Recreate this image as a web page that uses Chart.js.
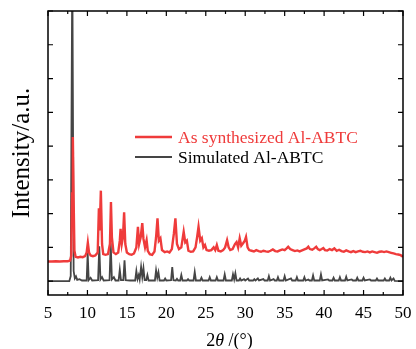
<!DOCTYPE html>
<html>
<head>
<meta charset="utf-8">
<script src="https://cdn.jsdelivr.net/npm/chart.js@4"></script>
<style>
  html, body { margin: 0; padding: 0; background: #fff; }
</style>
</head>
<body>
<canvas id="myChart" width="416" height="349"></canvas>
<script>
// Datos del difractograma (2θ en grados, intensidad en unidades arbitrarias)
var expLabel = 'As synthesized Al-ABTC';
var simLabel = 'Simulated Al-ABTC';

var expTheta = [5.0, 5.5, 6.0, 6.5, 7.0, 7.5, 7.8, 7.95, 8.05, 8.15, 8.25, 8.35, 8.5, 8.8, 9.1, 9.4, 9.7, 9.9, 10.05, 10.2,
  10.4, 10.7, 11.0, 11.3, 11.45, 11.55, 11.7, 11.85, 12.0, 12.3, 12.6, 12.85, 12.98, 13.1, 13.3, 13.6, 13.9, 14.1, 14.2, 14.35,
  14.5, 14.65, 14.8, 15.0, 15.3, 15.6, 15.9, 16.2, 16.4, 16.55, 16.75, 16.95, 17.1, 17.3, 17.5, 17.65, 17.9, 18.2, 18.5, 18.7,
  18.88, 19.05, 19.25, 19.45, 19.8, 20.1, 20.4, 20.7, 20.95, 21.15, 21.35, 21.6, 21.9, 22.2, 22.4, 22.6, 22.8, 23.1, 23.4, 23.7,
  23.9, 24.08, 24.3, 24.5, 24.7, 24.9, 25.1, 25.4, 25.7, 26.0, 26.2, 26.4, 26.6, 26.9, 27.2, 27.45, 27.7, 27.9, 28.1, 28.4,
  28.7, 28.9, 29.1, 29.3, 29.5, 29.75, 29.95, 30.1, 30.3, 30.5, 30.8, 31.1, 31.4, 31.7, 32.0, 32.3, 32.6, 32.9, 33.2, 33.5,
  33.8, 34.1, 34.4, 34.7, 35.0, 35.25, 35.45, 35.7, 36.0, 36.3, 36.6, 36.9, 37.2, 37.5, 37.8, 38.0, 38.2, 38.5, 38.75, 39.0,
  39.2, 39.45, 39.7, 39.9, 40.1, 40.4, 40.7, 41.0, 41.3, 41.6, 41.9, 42.2, 42.5, 42.8, 43.1, 43.4, 43.7, 44.0, 44.3, 44.6,
  44.9, 45.2, 45.5, 45.8, 46.1, 46.4, 46.7, 47.0, 47.3, 47.6, 47.9, 48.2, 48.5, 48.8, 49.1, 49.4, 49.7, 50.0];
var expIntensity = [0.58, 0.58, 0.59, 0.58, 0.59, 0.59, 0.61, 0.75, 2.6, 4.27, 2.4, 0.9, 0.72, 0.70, 0.72, 0.71, 0.74, 0.85, 1.14, 0.85,
  0.76, 0.74, 0.76, 0.85, 2.16, 1.5, 2.68, 1.1, 0.80, 0.78, 0.80, 1.1, 2.34, 1.3, 0.85, 0.80, 0.85, 1.2, 1.55, 1.1,
  1.3, 2.04, 1.1, 0.85, 0.80, 0.78, 0.82, 1.0, 1.61, 1.1, 1.3, 1.72, 1.25, 1.0, 1.21, 0.9, 0.80, 0.78, 0.88, 1.3,
  1.86, 1.2, 1.27, 0.92, 0.86, 0.88, 0.85, 0.95, 1.4, 1.86, 1.1, 0.95, 1.0, 1.46, 1.15, 1.2, 0.9, 0.87, 0.88, 1.0,
  1.3, 1.61, 1.2, 1.27, 1.0, 1.07, 0.92, 0.90, 0.92, 1.0, 0.92, 1.07, 0.90, 0.88, 0.92, 1.0, 1.21, 1.0, 0.92, 0.95,
  1.1, 1.16, 1.0, 1.27, 1.05, 1.13, 1.2, 1.31, 1.0, 0.92, 0.90, 0.88, 0.92, 0.89, 0.87, 0.90, 0.88, 0.87, 0.90, 0.94,
  0.89, 0.88, 0.91, 0.94, 0.92, 0.97, 1.02, 0.95, 0.92, 0.89, 0.91, 0.88, 0.91, 0.94, 0.97, 1.02, 0.95, 0.93, 0.97, 1.02,
  0.95, 0.92, 0.95, 0.98, 0.92, 0.91, 0.95, 0.92, 0.97, 0.90, 0.93, 0.89, 0.87, 0.91, 0.88, 0.86, 0.89, 0.86, 0.88, 0.90,
  0.87, 0.86, 0.88, 0.85, 0.88, 0.86, 0.84, 0.87, 0.88, 0.86, 0.88, 0.86, 0.84, 0.82, 0.80, 0.79, 0.77, 0.72];

var simTheta = [5.0, 7.7, 7.88, 8.08, 8.25, 8.4, 8.55, 8.7, 9.0, 9.3, 9.9, 10.03, 10.16, 10.4, 10.6, 11.35, 11.5, 11.65, 11.85, 12.05,
  12.8, 12.95, 13.1, 13.35, 13.55, 13.95, 14.1, 14.25, 14.55, 14.7, 14.85, 15.4, 16.05, 16.2, 16.35, 16.5, 16.62, 16.8, 16.95, 17.1,
  17.25, 17.45, 17.6, 17.75, 18.55, 18.7, 18.85, 19.0, 19.15, 19.7, 19.85, 20.0, 20.6, 20.75, 20.9, 21.2, 21.35, 21.5, 21.75, 21.9,
  22.05, 22.6, 22.75, 22.9, 23.45, 23.6, 23.75, 24.3, 24.45, 24.6, 25.35, 25.5, 25.65, 26.25, 26.4, 26.55, 27.25, 27.4, 27.55, 28.3,
  28.45, 28.6, 28.75, 28.9, 29.2, 29.35, 29.5, 29.85, 30.0, 30.35, 30.5, 31.0, 31.15, 31.3, 31.6, 31.75, 32.3, 32.45, 32.85, 33.0,
  33.15, 33.6, 33.75, 34.0, 34.15, 34.3, 34.85, 35.0, 35.15, 35.8, 35.95, 36.4, 36.55, 36.7, 37.35, 37.5, 37.65, 38.0, 38.15, 38.45,
  38.6, 38.75, 39.45, 39.6, 39.75, 40.5, 40.65, 41.05, 41.2, 41.35, 41.85, 42.0, 42.15, 42.65, 42.8, 42.95, 43.5, 43.65, 44.05, 44.2,
  44.35, 44.85, 45.0, 45.15, 45.8, 45.95, 46.55, 46.7, 46.85, 47.55, 47.7, 47.85, 48.25, 48.4, 48.55, 48.8, 48.95, 50.0];
var simIntensity = [0.0, 0.0, 0.15, 9.5, 0.3, 0.08, 0.14, 0.04, 0.06, 0.02, 0.02, 0.83, 0.03, 0.1, 0.02, 0.03, 1.03, 0.05, 0.12, 0.02,
  0.03, 1.12, 0.05, 0.12, 0.02, 0.02, 0.34, 0.03, 0.03, 0.62, 0.03, 0.02, 0.02, 0.3, 0.06, 0.18, 0.05, 0.42, 0.12, 0.38,
  0.03, 0.03, 0.18, 0.02, 0.02, 0.32, 0.1, 0.26, 0.02, 0.02, 0.08, 0.02, 0.03, 0.42, 0.03, 0.02, 0.07, 0.02, 0.02, 0.18,
  0.02, 0.02, 0.06, 0.02, 0.02, 0.27, 0.02, 0.02, 0.1, 0.02, 0.02, 0.12, 0.02, 0.02, 0.12, 0.02, 0.02, 0.2, 0.02, 0.02,
  0.2, 0.05, 0.23, 0.02, 0.02, 0.08, 0.02, 0.06, 0.02, 0.08, 0.02, 0.02, 0.06, 0.02, 0.08, 0.02, 0.06, 0.02, 0.02, 0.15,
  0.02, 0.06, 0.02, 0.02, 0.12, 0.02, 0.02, 0.15, 0.02, 0.08, 0.02, 0.02, 0.12, 0.02, 0.02, 0.12, 0.02, 0.05, 0.02, 0.02,
  0.17, 0.02, 0.02, 0.2, 0.02, 0.05, 0.02, 0.02, 0.1, 0.02, 0.02, 0.12, 0.02, 0.02, 0.13, 0.02, 0.05, 0.02, 0.02, 0.1,
  0.02, 0.02, 0.1, 0.02, 0.05, 0.02, 0.02, 0.08, 0.02, 0.02, 0.08, 0.02, 0.02, 0.1, 0.02, 0.08, 0.01, 0.0];

// Marcas de los ejes
var xTickLabels = [5, 10, 15, 20, 25, 30, 35, 40, 45, 50];
var yTickValues = [0, 1, 2, 3, 4, 5, 6, 7, 8];

var redColor = '#ef3b3b';
var greyColor = '#454545';

function toPoints(xs, ys) {
    return xs.map(function (x, i) { return { x: x, y: ys[i] }; });
}

// Marco, marcas hacia dentro, leyenda y título del eje x
var framePlugin = {
    id: 'frame',
    afterDraw: function (chart) {
        var ctx = chart.ctx;
        var a = chart.chartArea;
        var xs = chart.scales.x, ys = chart.scales.y;
        ctx.save();
        ctx.strokeStyle = '#000';
        ctx.lineWidth = 1.5;
        ctx.strokeRect(a.left, a.top, a.right - a.left, a.bottom - a.top);

        ctx.lineWidth = 1.2;
        ctx.beginPath();
        xTickLabels.forEach(function (v, i) {
            var px = xs.getPixelForValue(v);
            ctx.moveTo(px, a.bottom); ctx.lineTo(px, a.bottom - 5);
            ctx.moveTo(px, a.top); ctx.lineTo(px, a.top + 5);
            if (i < xTickLabels.length - 1) {
                var m = xs.getPixelForValue((v + xTickLabels[i + 1]) / 2);
                ctx.moveTo(m, a.bottom); ctx.lineTo(m, a.bottom - 3);
                ctx.moveTo(m, a.top); ctx.lineTo(m, a.top + 3);
            }
        });
        yTickValues.forEach(function (v) {
            var py = ys.getPixelForValue(v);
            ctx.moveTo(a.left, py); ctx.lineTo(a.left + 5, py);
            ctx.moveTo(a.right, py); ctx.lineTo(a.right - 5, py);
        });
        ctx.stroke();

        // leyenda
        ctx.font = "17.5px 'Liberation Serif', serif";
        ctx.textBaseline = 'middle';
        ctx.textAlign = 'left';
        chart.data.datasets.forEach(function (ds, i) {
            var y = 137 + i * 20;
            ctx.strokeStyle = ds.borderColor;
            ctx.lineWidth = ds.borderWidth;
            ctx.beginPath();
            ctx.moveTo(135, y); ctx.lineTo(172, y);
            ctx.stroke();
            ctx.fillStyle = i === 0 ? redColor : '#000';
            ctx.fillText(ds.label, 178, y + 1);
        });

        // título del eje x: 2θ /(°)
        var parts = [
            { t: '2', f: "18px 'Liberation Serif', serif" },
            { t: 'θ', f: "italic 18px 'Liberation Serif', serif" },
            { t: ' /(°)', f: "18px 'Liberation Serif', serif" }
        ];
        var total = 0;
        parts.forEach(function (p) { ctx.font = p.f; p.w = ctx.measureText(p.t).width; total += p.w; });
        var x0 = (a.left + a.right) / 2 + 4 - total / 2;
        ctx.fillStyle = '#000';
        ctx.textBaseline = 'alphabetic';
        parts.forEach(function (p) { ctx.font = p.f; ctx.fillText(p.t, x0, 346); x0 += p.w; });
        ctx.restore();
    }
};

var chart = document.getElementById('myChart').getContext('2d');
var myChart = new Chart(chart, {
    type: 'line',
    data: {
        datasets: [
            {
                label: expLabel,
                data: toPoints(expTheta, expIntensity),
                borderColor: redColor,
                borderWidth: 2.4,
                pointRadius: 0,
                tension: 0,
                fill: false
            },
            {
                label: simLabel,
                data: toPoints(simTheta, simIntensity),
                borderColor: greyColor,
                borderWidth: 1.8,
                pointRadius: 0,
                tension: 0,
                fill: false
            }
        ]
    },
    options: {
        responsive: false,
        animation: false,
        layout: { padding: { top: 11, right: 13, left: 0, bottom: 0 } },
        plugins: {
            legend: { display: false },
            tooltip: { enabled: false }
        },
        scales: {
            x: {
                type: 'linear',
                min: 5,
                max: 50,
                grid: { display: false },
                border: { display: false },
                afterBuildTicks: function (s) { s.ticks = xTickLabels.map(function (v) { return { value: v }; }); },
                afterFit: function (s) { s.height = 54; },
                ticks: {
                    padding: 0,
                    maxRotation: 0,
                    autoSkip: false,
                    color: '#000',
                    font: { family: "'Liberation Serif', serif", size: 17 }
                }
            },
            y: {
                min: -0.41,
                max: 8,
                grid: { display: false },
                border: { display: false },
                afterBuildTicks: function (s) { s.ticks = yTickValues.map(function (v) { return { value: v }; }); },
                afterFit: function (s) { s.width = 48; },
                ticks: { display: false },
                title: {
                    display: true,
                    text: 'Intensity/a.u.',
                    color: '#000',
                    padding: { top: 7, bottom: 0 },
                    font: { family: "'Liberation Serif', serif", size: 25, weight: 'normal' }
                }
            }
        }
    },
    plugins: [framePlugin]
});
</script>
</body>
</html>
